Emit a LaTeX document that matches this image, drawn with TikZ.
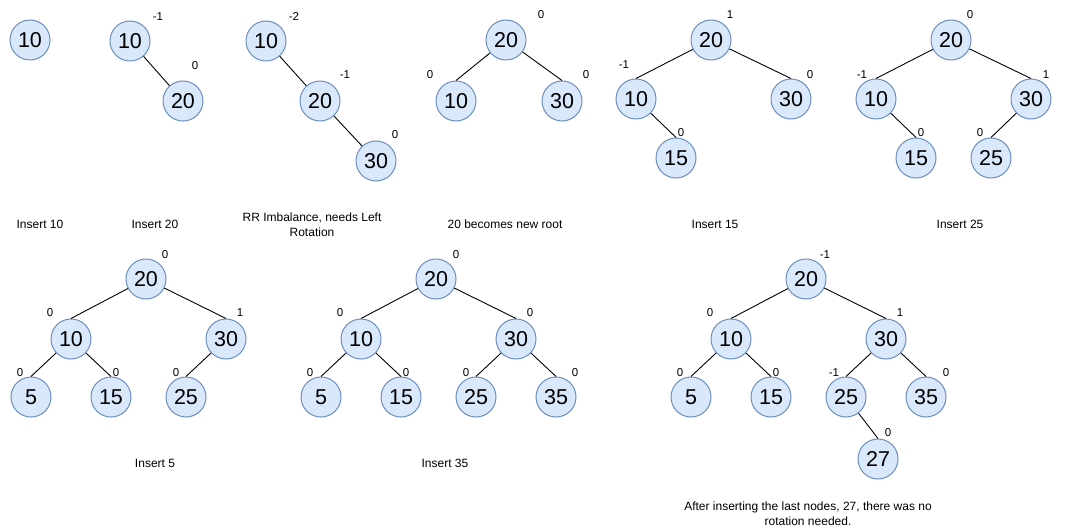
\documentclass[tikz,border=0pt]{standalone}
\usepackage{fontspec}
\setmainfont{Liberation Sans}
\usetikzlibrary{positioning}
\definecolor{keyfill}{HTML}{DAE8FC}
\definecolor{keyline}{HTML}{6C8EBF}
\tikzstyle{key} = [draw=keyline, fill=keyfill, circle, minimum size=40pt, inner sep=0pt, line width=1pt, font=\fontsize{21.5}{24}\selectfont]
\tikzstyle{bal} = [inner sep=0pt, font=\fontsize{11.5}{13}\selectfont]
\tikzstyle{caption} = [align=center, inner sep=0pt, font=\fontsize{12}{15}\selectfont]
\tikzstyle{edge} = [draw, line width=0.9pt, black]
\begin{document}
\begin{tikzpicture}[x=1pt, y=-1pt]
    \useasboundingbox (0,0) rectangle (1075,529);

    % Insert 10
    \node [key] (a10) at (30,40) {10};
    \node [caption] (capa) at (40,224) {Insert 10};

    % Insert 20
    \node [key] (b10) at (130,41) {10};
    \node [key] (b20) at (183,101) {20};
    \node [bal] at (158,17) {-1};
    \node [bal] at (195,66) {0};
    \draw [edge] (b10) -- (b20);
    \node [caption] (capb) at (155,224) {Insert 20};

    % RR imbalance
    \node [key] (c10) at (266,41) {10};
    \node [key] (c20) at (320,101) {20};
    \node [key] (c30) at (376,161) {30};
    \node [bal] at (294,16) {-2};
    \node [bal] at (345,75) {-1};
    \node [bal] at (395,135) {0};
    \draw [edge] (c10) -- (c20);
    \draw [edge] (c20) -- (c30);
    \node [caption] (capc) at (312,225) {RR Imbalance, needs Left\\Rotation};

    % new root
    \node [key] (d20) at (506,40) {20};
    \node [key] (d10) at (456,101) {10};
    \node [key] (d30) at (562,101) {30};
    \node [bal] at (541,15) {0};
    \node [bal] at (430,75) {0};
    \node [bal] at (586,75) {0};
    \draw [edge] (d20) -- (d10.north);
    \draw [edge] (d20) -- (d30.north);
    \node [caption] (capd) at (505,224) {20 becomes new root};

    % Insert 15
    \node [key] (e20) at (711,40) {20};
    \node [key] (e10) at (636,99) {10};
    \node [key] (e30) at (791,99) {30};
    \node [key] (e15) at (676,158) {15};
    \node [bal] at (730,15) {1};
    \node [bal] at (624,65) {-1};
    \node [bal] at (810,75) {0};
    \node [bal] at (681,133) {0};
    \draw [edge] (e20) -- (e10.north);
    \draw [edge] (e20) -- (e30.north);
    \draw [edge] (e10) -- (e15.north);
    \node [caption] (cape) at (715,224) {Insert 15};

    % Insert 25
    \node [key] (f20) at (951,40) {20};
    \node [key] (f10) at (876,99) {10};
    \node [key] (f30) at (1031,99) {30};
    \node [key] (f15) at (916,158) {15};
    \node [key] (f25) at (991,158) {25};
    \node [bal] at (970,15) {0};
    \node [bal] at (862,75) {-1};
    \node [bal] at (1046,75) {1};
    \node [bal] at (921,133) {0};
    \node [bal] at (980,133) {0};
    \draw [edge] (f20) -- (f10.north);
    \draw [edge] (f20) -- (f30.north);
    \draw [edge] (f10) -- (f15.north);
    \draw [edge] (f30) -- (f25.north);
    \node [caption] (capf) at (960,224) {Insert 25};

    % Insert 5
    \node [key] (g20) at (146,279) {20};
    \node [key] (g10) at (71,339) {10};
    \node [key] (g30) at (226,339) {30};
    \node [key] (g5) at (31,397) {5};
    \node [key] (g15) at (111,397) {15};
    \node [key] (g25) at (186,397) {25};
    \node [bal] at (165,255) {0};
    \node [bal] at (50,313) {0};
    \node [bal] at (240,313) {1};
    \node [bal] at (20,373) {0};
    \node [bal] at (116,373) {0};
    \node [bal] at (176,373) {0};
    \draw [edge] (g20) -- (g10.north);
    \draw [edge] (g20) -- (g30.north);
    \draw [edge] (g10) -- (g5.north);
    \draw [edge] (g10) -- (g15.north);
    \draw [edge] (g30) -- (g25.north);
    \node [caption] (capg) at (155,463) {Insert 5};

    % Insert 35
    \node [key] (h20) at (436,279) {20};
    \node [key] (h10) at (361,339) {10};
    \node [key] (h30) at (516,339) {30};
    \node [key] (h5) at (321,397) {5};
    \node [key] (h15) at (401,397) {15};
    \node [key] (h25) at (476,397) {25};
    \node [key] (h35) at (556,397) {35};
    \node [bal] at (456,255) {0};
    \node [bal] at (340,313) {0};
    \node [bal] at (530,313) {0};
    \node [bal] at (310,373) {0};
    \node [bal] at (406,373) {0};
    \node [bal] at (466,373) {0};
    \node [bal] at (575,373) {0};
    \draw [edge] (h20) -- (h10.north);
    \draw [edge] (h20) -- (h30.north);
    \draw [edge] (h10) -- (h5.north);
    \draw [edge] (h10) -- (h15.north);
    \draw [edge] (h30) -- (h25.north);
    \draw [edge] (h30) -- (h35.north);
    \node [caption] (caph) at (445,463) {Insert 35};

    % Insert 27
    \node [key] (i20) at (806,279) {20};
    \node [key] (i10) at (731,339) {10};
    \node [key] (i30) at (886,339) {30};
    \node [key] (i5) at (691,397) {5};
    \node [key] (i15) at (771,397) {15};
    \node [key] (i25) at (846,397) {25};
    \node [key] (i35) at (926,397) {35};
    \node [key] (i27) at (878,459) {27};
    \node [bal] at (825,255) {-1};
    \node [bal] at (710,313) {0};
    \node [bal] at (900,313) {1};
    \node [bal] at (680,373) {0};
    \node [bal] at (776,373) {0};
    \node [bal] at (834,373) {-1};
    \node [bal] at (946,373) {0};
    \node [bal] at (888,433) {0};
    \draw [edge] (i20) -- (i10.north);
    \draw [edge] (i20) -- (i30.north);
    \draw [edge] (i10) -- (i5.north);
    \draw [edge] (i10) -- (i15.north);
    \draw [edge] (i30) -- (i25.north);
    \draw [edge] (i30) -- (i35.north);
    \draw [edge] (i25) -- (i27.north);
    \node [caption] (capi) at (808,514) {After inserting the last nodes, 27, there was no\\rotation needed.};
\end{tikzpicture}
\end{document}
